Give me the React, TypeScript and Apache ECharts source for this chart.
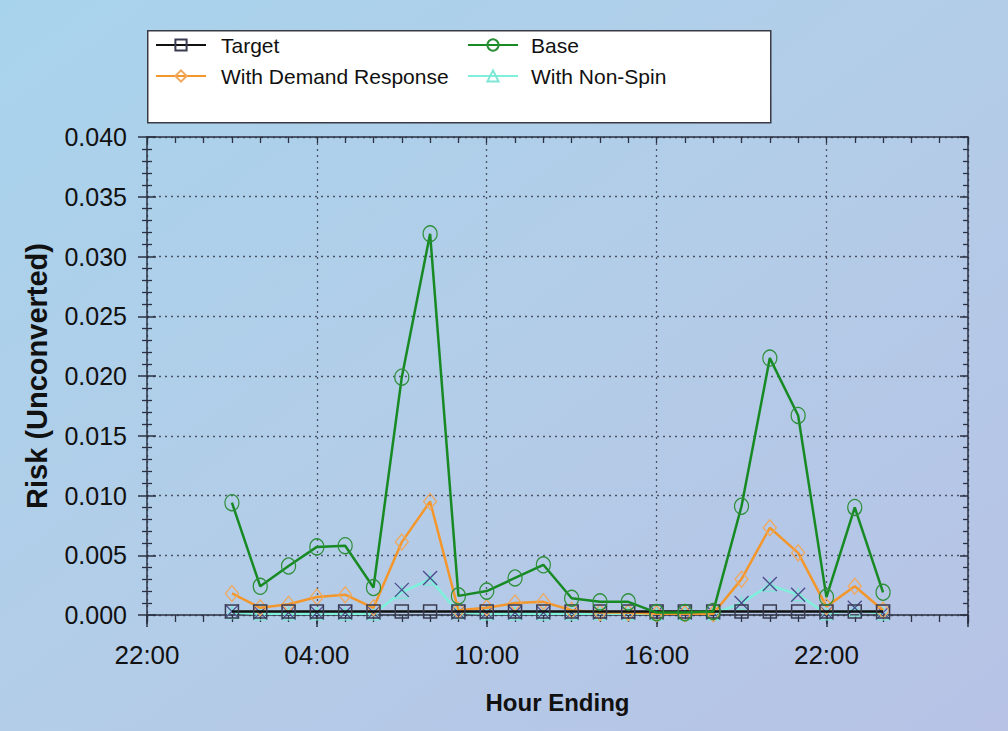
import React, { useEffect, useRef } from 'react';
import * as echarts from 'echarts';

// Hour ending 1..24 (plotted two hours after the 22:00 origin of the axis)
const hours = [1, 2, 3, 4, 5, 6, 7, 8, 9, 10, 11, 12, 13, 14, 15, 16, 17, 18, 19, 20, 21, 22, 23, 24];
const target = [0.0003, 0.0003, 0.0003, 0.0003, 0.0003, 0.0003, 0.0003, 0.0003, 0.0003, 0.0003, 0.0003, 0.0003,
  0.0003, 0.0003, 0.0003, 0.0003, 0.0003, 0.0003, 0.0003, 0.0003, 0.0003, 0.0003, 0.0003, 0.0003];
const base = [0.0094, 0.0024, 0.0041, 0.0057, 0.0058, 0.0023, 0.0199, 0.0319, 0.0016, 0.0020, 0.0031, 0.0042,
  0.0014, 0.0011, 0.0011, 0.0002, 0.0002, 0.0003, 0.0091, 0.0215, 0.0167, 0.0015, 0.0090, 0.0019];
const demandResponse = [0.0018, 0.0006, 0.0009, 0.0015, 0.0017, 0.0006, 0.0061, 0.0095, 0.0004, 0.0006, 0.0010, 0.0011,
  0.0004, 0.0002, 0.0002, 0.0001, 0.0001, 0.0001, 0.0030, 0.0073, 0.0052, 0.0007, 0.0024, 0.0004];
const nonSpin = [0.0002, 0.0001, 0.0001, 0.0001, 0.0001, 0.0001, 0.0019, 0.0030, 0.0002, 0.0001, 0.0001, 0.0001,
  0.0001, 0.0001, 0.0001, 0.0001, 0.0001, 0.0001, 0.0010, 0.0025, 0.0017, 0.0001, 0.0004, 0.0001];
const crossMarks = [0.0003, 0.0002, 0.0002, 0.0002, 0.0002, 0.0002, 0.0021, 0.0031, 0.0002, 0.0002, 0.0002, 0.0002,
  0.0002, 0.0002, 0.0002, 0.0002, 0.0002, 0.0002, 0.0010, 0.0026, 0.0017, 0.0002, 0.0006, 0.0002];
const xTickHours = ['22:00', '04:00', '10:00', '16:00', '22:00'];

const OFFSET = 2; // 22:00 origin -> hour ending h is at h + 2
const FONT = '"Liberation Sans", Arial, sans-serif';
const AX = '#2b3142';
const GRID = '#4d5366';

const pts = (vals: number[]) => hours.map((h, i) => [h + OFFSET, vals[i]]);

export default function App() {
  const ref = useRef<HTMLDivElement>(null);
  useEffect(() => {
    const chart = echarts.init(ref.current!, null, { renderer: 'svg' });
    const axisLineStyle = { color: AX, width: 1.5 };
    const xCommon = { type: 'value', min: 0, max: 29 };
    const yCommon = { type: 'value', min: 0, max: 0.04, interval: 0.005 };
    const legendText = { fontSize: 21, lineHeight: 24, color: '#111', fontFamily: FONT };
    chart.setOption({
      animation: false,
      backgroundColor: new echarts.graphic.LinearGradient(0, 0, 1, 1, [
        { offset: 0, color: '#a8d3ec' },
        { offset: 0.5, color: '#b3cde8' },
        { offset: 1, color: '#b7c2e5' },
      ]),
      graphic: [
        {
          type: 'rect',
          left: 147,
          top: 30,
          shape: { width: 623, height: 92 },
          style: { fill: '#ffffff', stroke: '#3a3a44', lineWidth: 1.5 },
          z: 0,
        },
      ],
      legend: [
        {
          data: ['Target', 'With Demand Response'],
          orient: 'vertical',
          left: 150,
          top: 28,
          itemWidth: 50,
          itemHeight: 14,
          itemGap: 7,
          selectedMode: false,
          textStyle: { ...legendText, padding: [0, 0, 0, 10] },
        },
        {
          data: ['Base', 'With Non-Spin'],
          orient: 'vertical',
          left: 462,
          top: 28,
          itemWidth: 50,
          itemHeight: 14,
          itemGap: 7,
          selectedMode: false,
          textStyle: { ...legendText, padding: [0, 0, 0, 8] },
        },
      ],
      grid: { left: 147, right: 40, top: 137, bottom: 116, containLabel: false },
      xAxis: [
        {
          ...xCommon,
          position: 'bottom',
          interval: 6,
          axisLine: { show: true, onZero: false, lineStyle: axisLineStyle },
          axisTick: { show: true, inside: false, length: 12, lineStyle: { color: AX, width: 1.5 } },
          axisLabel: {
            margin: 27,
            fontSize: 26,
            color: '#111',
            fontFamily: FONT,
            formatter: (v: number) => (v % 6 === 0 ? xTickHours[v / 6] : ''),
          },
          splitLine: { show: true, lineStyle: { type: [2, 4], color: GRID, width: 1.3 } },
          name: 'Hour Ending',
          nameLocation: 'middle',
          nameGap: 75,
          nameTextStyle: { fontSize: 24, fontWeight: 'bold', color: '#111', fontFamily: FONT },
        },
        {
          ...xCommon,
          position: 'bottom',
          interval: 1,
          axisLine: { show: false },
          axisTick: { show: true, inside: false, length: 7, lineStyle: { color: AX, width: 1.3 } },
          axisLabel: { show: false },
          splitLine: { show: false },
        },
        {
          ...xCommon,
          position: 'top',
          interval: 1,
          axisLine: { show: true, onZero: false, lineStyle: axisLineStyle },
          axisTick: { show: true, inside: true, length: 6, lineStyle: { color: AX, width: 1.3 } },
          axisLabel: { show: false },
          splitLine: { show: false },
        },
        {
          ...xCommon,
          position: 'top',
          interval: 6,
          axisLine: { show: false },
          axisTick: { show: true, inside: true, length: 9, lineStyle: { color: AX, width: 1.5 } },
          axisLabel: { show: false },
          splitLine: { show: false },
        },
      ],
      yAxis: [
        {
          ...yCommon,
          position: 'left',
          axisLine: { show: true, onZero: false, lineStyle: axisLineStyle },
          axisTick: { show: true, inside: false, length: 9, lineStyle: { color: AX, width: 1.5 } },
          minorTick: { show: true, splitNumber: 5, length: 5, lineStyle: { color: AX, width: 1.3 } },
          axisLabel: {
            margin: 20,
            fontSize: 25,
            color: '#111',
            fontFamily: FONT,
            formatter: (v: number) => v.toFixed(3),
          },
          splitLine: { show: true, lineStyle: { type: [2, 4], color: GRID, width: 1.3 } },
          name: 'Risk (Unconverted)',
          nameLocation: 'middle',
          nameGap: 96,
          nameTextStyle: { fontSize: 29, fontWeight: 'bold', color: '#111', fontFamily: FONT },
        },
        {
          ...yCommon,
          position: 'left',
          axisLine: { show: false },
          axisTick: { show: true, inside: true, length: 9, lineStyle: { color: AX, width: 1.5 } },
          minorTick: { show: true, splitNumber: 5, length: 5, lineStyle: { color: AX, width: 1.3 } },
          axisLabel: { show: false },
          splitLine: { show: false },
        },
        {
          ...yCommon,
          position: 'right',
          axisLine: { show: true, onZero: false, lineStyle: axisLineStyle },
          axisTick: { show: true, inside: true, length: 8, lineStyle: { color: AX, width: 1.5 } },
          minorTick: { show: true, splitNumber: 5, length: 5, lineStyle: { color: AX, width: 1.3 } },
          axisLabel: { show: false },
          splitLine: { show: false },
        },
      ],
      series: [
        {
          name: 'With Non-Spin',
          type: 'line',
          data: pts(nonSpin),
          symbol: 'triangle',
          symbolSize: 12,
          showAllSymbol: true,
          lineStyle: { color: '#7ff0dc', width: 2.5 },
          itemStyle: { color: 'rgba(0,0,0,0)', borderColor: '#7fe6d6', borderWidth: 1.3 },
          z: 2,
        },
        {
          name: 'X',
          type: 'line',
          data: pts(crossMarks),
          symbol: 'path://M0,0L10,10M10,0L0,10',
          symbolSize: 14,
          showAllSymbol: true,
          lineStyle: { width: 0, opacity: 0 },
          itemStyle: { color: 'rgba(0,0,0,0)', borderColor: '#4c4a8c', borderWidth: 1.3 },
          z: 3,
        },
        {
          name: 'With Demand Response',
          type: 'line',
          data: pts(demandResponse),
          symbol: 'diamond',
          symbolSize: [13, 16],
          showAllSymbol: true,
          lineStyle: { color: '#f3962c', width: 2.5 },
          itemStyle: { color: 'rgba(0,0,0,0)', borderColor: '#f0a85c', borderWidth: 1.3 },
          z: 4,
        },
        {
          name: 'Target',
          type: 'line',
          data: pts(target),
          symbol: 'rect',
          symbolSize: 13,
          showAllSymbol: true,
          lineStyle: { color: '#111111', width: 2.5 },
          itemStyle: { color: 'rgba(0,0,0,0)', borderColor: '#3a3d52', borderWidth: 1.5 },
          z: 5,
        },
        {
          name: 'Base',
          type: 'line',
          data: pts(base),
          symbol: 'circle',
          symbolSize: [14, 16],
          showAllSymbol: true,
          lineStyle: { color: '#178a24', width: 2.5 },
          itemStyle: { color: 'rgba(0,0,0,0)', borderColor: '#2e8f3a', borderWidth: 1.3 },
          z: 6,
        },
      ],
    } as any);
    return () => chart.dispose();
  }, []);
  return <div ref={ref} style={{ position: 'absolute', left: 0, top: 0, width: 1008, height: 731 }} />;
}
